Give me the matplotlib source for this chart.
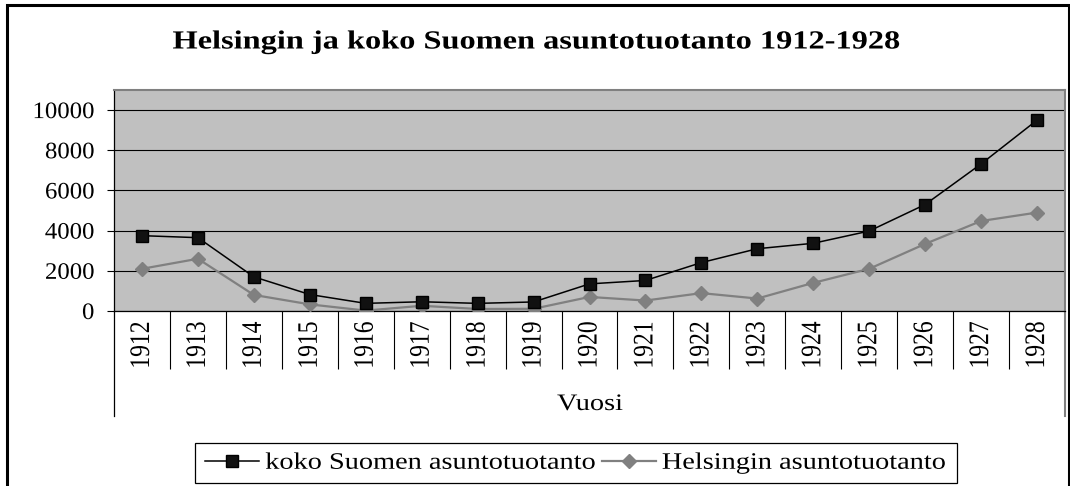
import matplotlib
matplotlib.use("Agg")
import matplotlib.pyplot as plt
import matplotlib.patheffects as pe
from matplotlib.transforms import Affine2D, blended_transform_factory
from matplotlib.lines import Line2D
from matplotlib.patches import Rectangle
import numpy as np

# ---------------- data ----------------
years = ["1912", "1913", "1914", "1915", "1916", "1917", "1918", "1919", "1920",
         "1921", "1922", "1923", "1924", "1925", "1926", "1927", "1928"]
suomi = [3750, 3650, 1700, 820, 380, 460, 380, 450, 1350, 1520, 2410, 3100,
         3370, 3980, 5300, 7320, 9500]
helsinki = [2100, 2600, 800, 330, 20, 260, 100, 110, 700, 520, 890, 620,
            1400, 2100, 3340, 4480, 4900]
yticks = [0, 2000, 4000, 6000, 8000, 10000]
title = "Helsingin ja koko Suomen asuntotuotanto 1912-1928"
xlabel = "Vuosi"
series_labels = ["koko Suomen asuntotuotanto", "Helsingin asuntotuotanto"]

# ---------------- helpers ----------------
class HStretch(pe.AbstractPathEffect):
    """Stretch text horizontally (the reference text is wider than usual)."""
    def __init__(self, sx=1.2, anchor="center"):
        super().__init__()
        self.sx = sx
        self.anchor = anchor

    def draw_path(self, renderer, gc, tpath, affine, rgbFace=None):
        v = affine.transform(tpath.vertices)
        if len(v) == 0:
            return
        x0, x1 = v[:, 0].min(), v[:, 0].max()
        cx = {"center": (x0 + x1) / 2, "left": x0, "right": x1}[self.anchor]
        new = affine + Affine2D().translate(-cx, 0).scale(self.sx, 1).translate(cx, 0)
        renderer.draw_path(gc, tpath, new, rgbFace)


W, H = 1070, 486
plt.rcParams["font.family"] = ["Liberation Serif", "DejaVu Serif"]
fig = plt.figure(figsize=(W / 100, H / 100), dpi=100)


def fx(px):
    return px / W


def fy(py):
    return 1 - py / H


FS = 17
SX = 1.2

# plot area
L, R, T, B = 114, 1065, 90, 311
ax = fig.add_axes([fx(L), fy(B), (R - L) / W, (B - T) / H])
ax.set_facecolor("#C0C0C0")
x = np.arange(len(years))

h_hel, = ax.plot(x, helsinki, color="#808080", lw=1.6, marker="D", ms=6.8,
                 mfc="#808080", mec="#808080", zorder=3)
h_suo, = ax.plot(x, suomi, color="#000000", lw=1.1, marker="s", ms=8,
                 mfc="#111111", mec="#000000", zorder=4)

ax.set_xlim(-0.5, len(years) - 0.5)
ax.set_ylim(0, 11000)
ax.set_yticks(yticks)
ax.set_yticklabels([str(v) for v in yticks])
ax.yaxis.grid(True, color="black", lw=0.8)
ax.set_axisbelow(True)

ax.set_xticks(x)
ax.set_xticklabels(years, rotation=90, ha="center", va="top")
ax.set_xticks(np.arange(0.5, len(years) - 1, 1.0), minor=True)
ax.tick_params(axis="x", which="major", length=0, pad=7.5, labelsize=FS)
ax.tick_params(axis="x", which="minor", length=41.8, width=0.8, color="black",
               direction="out")
ax.tick_params(axis="y", which="major", length=5.2, width=0.8, color="black",
               direction="out", pad=9, labelsize=FS)

for s in ("left", "bottom"):
    ax.spines[s].set_color("black")
    ax.spines[s].set_linewidth(0.9)
for s in ("top", "right"):
    ax.spines[s].set_color("#808080")
    ax.spines[s].set_linewidth(1.5)

for lbl in ax.get_xticklabels():
    lbl.set_path_effects([HStretch(SX, "center")])
for lbl in ax.get_yticklabels():
    lbl.set_path_effects([HStretch(1.05, "right")])

# category-axis box lines extending below the plot
bt = blended_transform_factory(ax.transData, ax.transAxes)
ext = -(416 - B) / (B - T)
ax.add_line(Line2D([-0.5, -0.5], [0, ext], transform=bt, color="black",
                   lw=0.9, clip_on=False))
ax.add_line(Line2D([len(years) - 0.5] * 2, [0, ext], transform=bt,
                   color="#808080", lw=1.5, clip_on=False))

# axis title and chart title
fig.text(fx(590), fy(410), xlabel, ha="center", va="baseline", fontsize=FS,
         path_effects=[HStretch(SX, "center")])
fig.text(fx(537), fy(48.5), title, ha="center", va="baseline", fontsize=18.8,
         fontweight="bold", path_effects=[HStretch(1.24, "center")])

# legend
leg = ax.legend([h_suo, h_hel], series_labels, loc="center left",
                bbox_to_anchor=(fx(205), fy(463)), bbox_transform=fig.transFigure,
                ncol=2, frameon=False, borderpad=0, borderaxespad=0,
                handlelength=2.3, handletextpad=0.25, columnspacing=2.6,
                fontsize=FS)
for t in leg.get_texts():
    t.set_path_effects([HStretch(SX, "left")])
fig.add_artist(Rectangle((fx(195), fy(483)), (957 - 195) / W, (483 - 442.5) / H,
                         transform=fig.transFigure, fill=False, ec="black",
                         lw=0.9))

# outer chart border
fig.add_artist(Rectangle((fx(6.5), fy(492)), (1068.5 - 6.5) / W, (492 - 4.7) / H,
                         transform=fig.transFigure, fill=False, ec="black",
                         lw=2.2, clip_on=False))

fig.savefig("out.png", dpi=100, facecolor="white")
